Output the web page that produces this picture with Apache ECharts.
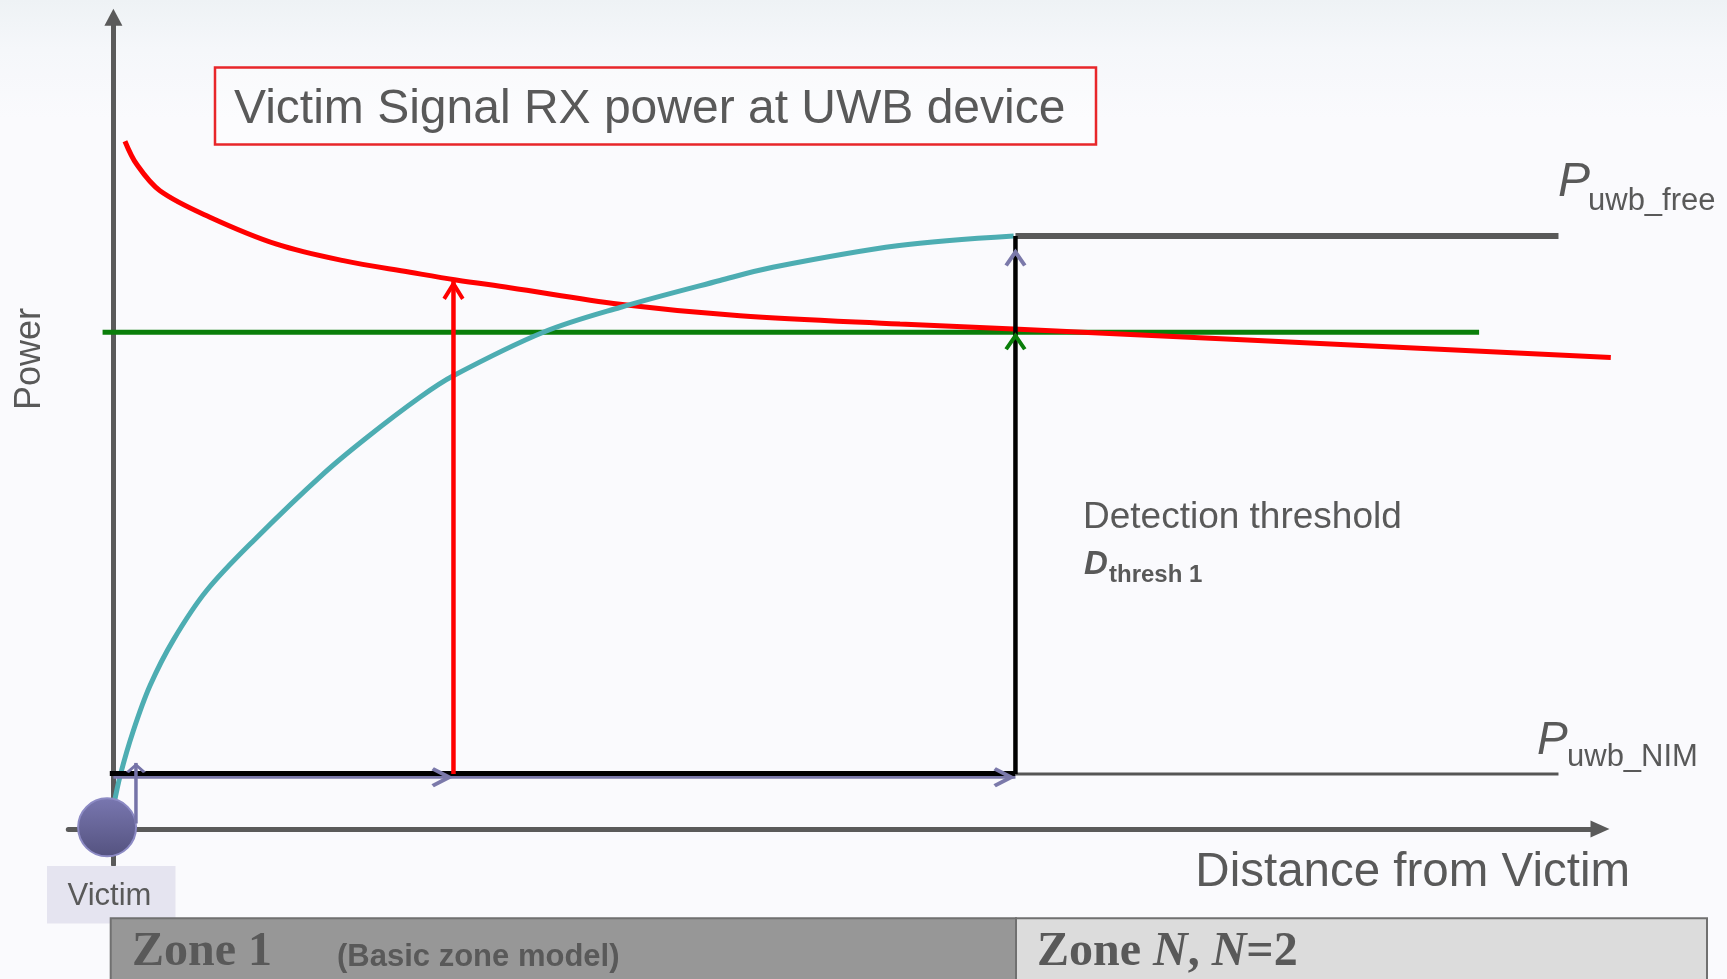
<!DOCTYPE html>
<html><head><meta charset="utf-8">
<script src="https://cdn.jsdelivr.net/npm/echarts@6/dist/echarts.min.js"></script>
<style>html,body{margin:0;padding:0;background:#fafafd;}#c{width:1727px;height:979px;}</style>
</head><body><div id="c"></div>
<script>
// ---------- data (x: distance units, y: power units) ----------
const rxDistance  = [1.28, 2.58, 5.16, 10.7, 18.1, 25.5, 32.9, 38.0, 43.96, 56.15, 69.46, 87.2, 99.8, 166];
const rxPower     = [124.9, 120.7, 115.9, 111.1, 106.2, 103.2, 101.1, 99.7, 98.3, 95.3, 93.2, 91.7, 90.8, 85.6];
const uwbDistance = [0, 0.8, 2.2, 4.05, 6.64, 10.34, 15.87, 23.27, 28.1, 33.98, 37.68, 47.66, 56.15, 67.24, 73.1, 86.9, 99.8];
const uwbPower    = [4, 10, 17.8, 26.0, 34.3, 43.3, 52.9, 64.5, 71.1, 78.4, 82.3, 90.2, 94.7, 99.6, 102.0, 105.9, 107.7];
const detectionLevel = 90.2;
const detectionSpan  = [-1.2, 151.4];
const zoneBoundary   = 100;     // D_thresh 1
const pFree          = 107.7;   // P_uwb_free
const pNim           = 10;      // P_uwb_NIM
const levelEnd       = 160.2;
const redArrowDist   = 37.7;
const redArrowTop    = 99.7;
const lavenderLevel  = 9.4;
const lavenderUpTip  = 105.4;
const smallArrowX    = 2.5;
const smallArrowSpan = [1, 12];
const victimPos      = [-0.7, 0.3];
const axisX = [-5, 164.8];
const axisXWide = [-5, 175];
const axisY = [-6.5, 147.4];

// ---------- layout ----------
const pxX = 9.0205, pxY = 5.507, originX = 113.4, originY = 829;
const gridLeft = originX + axisX[0] * pxX;
const gridRight = 1727 - (originX + axisX[1] * pxX);
const gridRightWide = 1727 - (originX + axisXWide[1] * pxX);
const gridTop = originY - axisY[1] * pxY;
const gridBottom = 979 - (originY - axisY[0] * pxY);

const CHEV = 'path://M0,16L10,0L20,16L17,18L10,7L3,18Z';
function chev(x, y, color, dir, w, h) {
  return {
    value: [x, y], symbol: CHEV, symbolSize: [w, h],
    symbolRotate: dir === 'right' ? -90 : 0,
    symbolOffset: dir === 'right' ? [-h / 2, 0] : [0, h / 2],
    itemStyle: { color: color, opacity: 1 }
  };
}
const zip = (a, b) => a.map((v, i) => [v, b[i]]);
const line = (name, data, color, width, z, extra) => Object.assign({
  type: 'line', name, data, symbol: 'none', z: z, clip: false,
  lineStyle: { color: color, width: width, cap: 'butt' }, silent: true
}, extra || {});

const GRAY = '#595959';
const SANS = '"Liberation Sans", Arial, sans-serif';
const SERIF = '"Liberation Serif", "Times New Roman", serif';
function txt(text, x, y, font, align, extra) {
  return Object.assign({
    type: 'text', x: x, y: y, z: 100, silent: true,
    style: { text: text, font: font, fill: GRAY, textAlign: align || 'left', align: align || 'left',
             textVerticalAlign: 'middle', verticalAlign: 'middle' }
  }, extra || {});
}
const hiddenAxis = (min, max, gridIndex) => ({
  type: 'value', min: min, max: max, gridIndex: gridIndex, show: false,
  axisLine: { show: false }, axisTick: { show: false }, axisLabel: { show: false }, splitLine: { show: false }
});

const chart = echarts.init(document.getElementById('c'), null, { renderer: 'canvas' });
chart.setOption({
  animation: false,
  backgroundColor: new echarts.graphic.LinearGradient(0, 0, 0, 1, [
    { offset: 0, color: '#eef2f5' }, { offset: 0.05, color: '#f5f7fa' },
    { offset: 0.12, color: '#fafafd' }, { offset: 1, color: '#fafafd' }]),
  grid: [
    { left: gridLeft, right: gridRight, top: gridTop, bottom: gridBottom, containLabel: false },
    { left: gridLeft, right: gridRightWide, top: gridTop, bottom: gridBottom, containLabel: false }
  ],
  xAxis: [{
    type: 'value', min: axisX[0], max: axisX[1], gridIndex: 0,
    axisLine: { show: true, onZero: true, symbol: ['none', 'triangle'], symbolSize: [17, 19],
      lineStyle: { color: '#5a5a5a', width: 5 } },
    axisTick: { show: false }, axisLabel: { show: false }, splitLine: { show: false }
  }, hiddenAxis(axisXWide[0], axisXWide[1], 1)],
  yAxis: [{
    type: 'value', min: axisY[0], max: axisY[1], gridIndex: 0,
    axisLine: { show: true, onZero: true, symbol: ['none', 'triangle'], symbolSize: [18, 17],
      lineStyle: { color: '#5a5a5a', width: 5 } },
    axisTick: { show: false }, axisLabel: { show: false }, splitLine: { show: false }
  }, hiddenAxis(axisY[0], axisY[1], 1)],
  series: [
    line('Detection threshold', detectionSpan.map(x => [x, detectionLevel]), '#0a7e0a', 5, 2),
    line('Victim RX power', zip(rxDistance, rxPower), '#ff0000', 5, 3,
      { smooth: 0.35, xAxisIndex: 1, yAxisIndex: 1 }),
    line('UWB power', zip(uwbDistance, uwbPower), '#4dadb2', 5, 3, { smooth: 0.35 }),
    line('P_uwb_free', [[zoneBoundary, pFree], [levelEnd, pFree]], '#595959', 6, 4),
    line('P_uwb_NIM', [[zoneBoundary, pNim], [levelEnd, pNim]], '#555555', 3, 4),
    line('lavender', [[0, lavenderLevel], [zoneBoundary, lavenderLevel]], '#7b79aa', 3, 4),
    line('NIM zone1', [[-0.4, pNim + 0.1], [zoneBoundary, pNim + 0.1]], '#000000', 5, 5),
    line('threshold vertical', [[zoneBoundary, pNim], [zoneBoundary, pFree]], '#000000', 4.5, 5),
    line('red arrow', [[redArrowDist, pNim], [redArrowDist, redArrowTop]], '#ff0000', 4.5, 6),
    line('small arrow', [[smallArrowX, smallArrowSpan[0]], [smallArrowX, smallArrowSpan[1]]], '#7573a8', 3.5, 8),
    {
      type: 'scatter', z: 7, silent: true, clip: false,
      data: [
        chev(redArrowDist, redArrowTop, '#ff0000', 'up', 22, 20),
        chev(zoneBoundary, detectionLevel, '#0a7e0a', 'up', 22, 18),
        chev(zoneBoundary, lavenderUpTip, '#7b79aa', 'up', 22, 18),
        chev(redArrowDist, lavenderLevel, '#7b79aa', 'right', 20, 22),
        chev(zoneBoundary, lavenderLevel, '#7b79aa', 'right', 20, 22)
      ]
    },
    {
      type: 'scatter', z: 7, silent: true, clip: false,
      data: [{
        value: victimPos, symbol: 'circle', symbolSize: 58,
        itemStyle: {
          opacity: 1,
          color: new echarts.graphic.LinearGradient(0, 0, 0, 1, [
            { offset: 0, color: '#7977b0' }, { offset: 1, color: '#54527f' }]),
          borderColor: '#8c8ac4', borderWidth: 2
        }
      }]
    },
    {
      type: 'scatter', z: 9, silent: true, clip: false,
      data: [chev(smallArrowX, smallArrowSpan[1], '#7573a8', 'up', 20, 10)]
    }
  ],
  graphic: [
    // title box
    { type: 'rect', z: 50, silent: true, shape: { x: 215, y: 67.5, width: 881, height: 77 },
      style: { fill: 'rgba(255,255,255,0.35)', stroke: '#e8262a', lineWidth: 2.5 } },
    txt('Victim Signal RX power at UWB device', 234, 109.5, '48px ' + SANS),
    // axis titles
    txt('Power', 30, 359, '36px ' + SANS, 'center', { rotation: Math.PI / 2 }),
    txt('Distance from Victim', 1630, 873, '47.5px ' + SANS, 'right'),
    // detection threshold
    txt('Detection threshold', 1083, 518, '37px ' + SANS),
    txt('D', 1084, 565, 'italic bold 33px ' + SANS),
    txt('thresh 1', 1109, 575, 'bold 24px ' + SANS),
    // level labels
    txt('P', 1558, 183, 'italic 48px ' + SANS),
    txt('uwb_free', 1588, 201, '31px ' + SANS),
    txt('P', 1537, 741, 'italic 46px ' + SANS),
    txt('uwb_NIM', 1567, 757.5, '31px ' + SANS),
    // victim label
    { type: 'rect', z: 40, silent: true, shape: { x: 47, y: 866, width: 128.5, height: 57.5 },
      style: { fill: '#e5e4f0' } },
    txt('Victim', 109.5, 896, '31px ' + SANS, 'center'),
    // zone table
    { type: 'rect', z: 45, silent: true, shape: { x: 110.7, y: 918.3, width: 905.3, height: 80 },
      style: { fill: '#979797', stroke: '#707070', lineWidth: 2 } },
    { type: 'rect', z: 45, silent: true, shape: { x: 1016, y: 918.3, width: 691, height: 80 },
      style: { fill: '#dcdcdc', stroke: '#707070', lineWidth: 2 } },
    txt('Zone 1', 132, 952.5, 'bold 48px ' + SERIF),
    txt('(Basic zone model)', 337, 957.5, 'bold 31px ' + SANS),
    { type: 'text', x: 1037, y: 952.5, z: 100, silent: true,
      style: {
        text: '{a|Zone }{i|N}{a|, }{i|N}{a|=2}',
        textAlign: 'left', align: 'left', textVerticalAlign: 'middle', verticalAlign: 'middle',
        rich: {
          a: { font: 'bold 48px ' + SERIF, fill: GRAY, color: GRAY },
          i: { font: 'italic bold 48px ' + SERIF, fill: GRAY, color: GRAY }
        }
      } }
  ]
});
</script></body></html>
